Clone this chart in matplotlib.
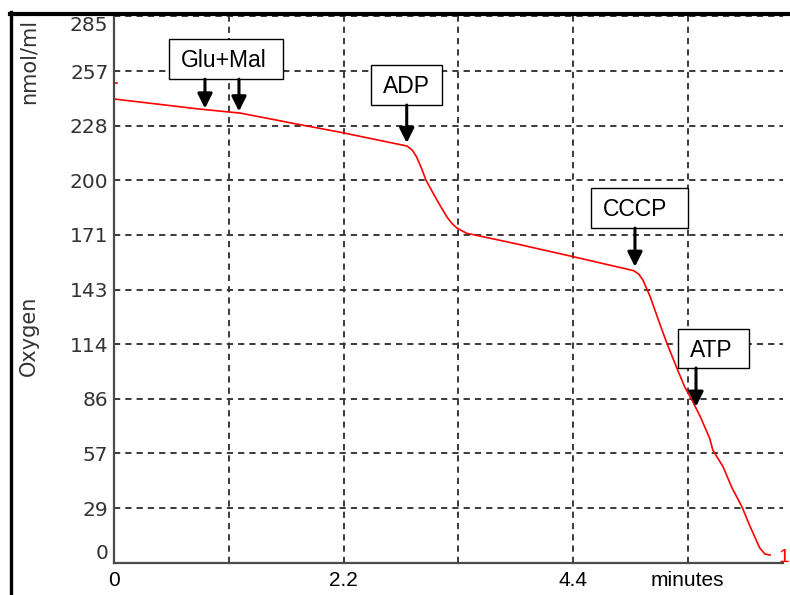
import matplotlib
matplotlib.use("Agg")
import matplotlib.pyplot as plt
from matplotlib.patches import Rectangle
from matplotlib.lines import Line2D

# Oxygen trace (minutes, nmol/ml)
t_min = [0.01, 0.82, 1.21, 1.59, 1.75, 2.17, 2.81, 2.86, 2.90, 2.95, 2.99,
         3.06, 3.13, 3.19, 3.24, 3.29, 3.38, 3.83, 4.40, 4.98, 5.03, 5.07,
         5.14, 5.23, 5.30, 5.39, 5.47, 5.54, 5.62, 5.71, 5.74, 5.84, 5.92,
         6.02, 6.10, 6.19, 6.24, 6.29]
oxygen = [241.9, 236.7, 234.6, 230.6, 228.9, 224.6, 217.4, 215.2, 211.8,
          205.5, 199.7, 192.7, 186.0, 180.5, 177.0, 174.5, 171.9, 166.7,
          159.7, 152.4, 150.6, 147.5, 138.8, 124.9, 114.5, 102.3, 91.8, 84.9,
          76.2, 64.9, 58.8, 49.9, 39.5, 29.1, 18.6, 7.7, 4.5, 4.0]
# tiny stray bit of trace at the very start
blip_t = [0.0, 0.03]
blip_o = [250.3, 250.3]

y_ticks = [0, 28.5, 57, 85.5, 114, 142.5, 171, 199.5, 228, 256.5, 285]
y_ticklabels = ["0", "29", "57", "86", "114", "143", "171", "200", "228", "257", "285"]
x_ticks = [0, 1.1, 2.2, 3.3, 4.4, 5.5]
x_ticklabels = ["0", "", "2.2", "", "4.4", "minutes"]

# additions: label, arrow x positions, arrow tip y, box (x0, y0, w, h)
add_labels = ["Glu+Mal", "ADP", "CCCP", "ATP"]
add_x = [[0.872, 1.198], [2.806], [4.994], [5.579]]
add_tip = [[237.0, 235.5], [219.0], [154.4], [81.4]]
add_box = [(0.527, 252.3, 1.093, 20.8), (2.464, 238.8, 0.681, 20.9),
           (4.572, 174.6, 0.930, 20.9), (5.406, 101.6, 0.681, 20.4)]

grid_col = "#3a3a3a"
text_col = "#333333"

fig = plt.figure(figsize=(7.9, 5.95), dpi=100)
ax = fig.add_axes([114 / 790, 32.3 / 595, 669 / 790, 546.2 / 595])

ax.plot(t_min, oxygen, color="red", lw=1.2)
ax.plot(blip_t, blip_o, color="red", lw=1.2)

ax.set_xlim(0, 6.413)
ax.set_ylim(0, 285)

ax.set_yticks(y_ticks)
ax.set_yticklabels(y_ticklabels, fontsize=14.5, color=text_col, family="DejaVu Sans")
ax.set_xticks(x_ticks)
ax.set_xticklabels(x_ticklabels, fontsize=15, color="black", family="Liberation Sans")
ax.tick_params(axis="y", length=0, pad=4)
ax.tick_params(axis="x", length=0, pad=6)
ylabs = ax.get_yticklabels()
ylabs[0].set_va("bottom")
ylabs[-1].set_va("top")

ax.grid(True, color=grid_col, lw=1.4, linestyle=(0, (3.2, 2.6)))
ax.set_axisbelow(True)

for side in ["top", "right"]:
    ax.spines[side].set_visible(False)
for side in ["left", "bottom"]:
    ax.spines[side].set_color("#4a4a4a")
    ax.spines[side].set_linewidth(1.6)

# annotation boxes with arrows
for lab, xs, tips, box in zip(add_labels, add_x, add_tip, add_box):
    x0, y0, w, h = box
    ax.add_patch(Rectangle((x0, y0), w, h, facecolor="white", edgecolor="black",
                           lw=1.0, zorder=4))
    ax.text(x0 + 0.115, y0 + h / 2 - 4.3, lab, fontsize=16.5, va="baseline",
            ha="left", family="Liberation Sans", zorder=5)
    for xa, ya in zip(xs, tips):
        ax.annotate("", xy=(xa, ya), xytext=(xa, y0), zorder=5,
                    arrowprops=dict(arrowstyle="-|>", lw=2.2, color="black",
                                    mutation_scale=22, shrinkA=0, shrinkB=0))

# trace number at the right end
fig.text(0.999, 1 - 557 / 595, "1", color="red", fontsize=14, ha="right",
         va="center", family="Liberation Sans")

# axis captions
fig.text(29 / 790, 1 - 61 / 595, "nmol/ml", rotation=90, ha="center", va="center",
         fontsize=15, color=text_col)
fig.text(29 / 790, 1 - 336 / 595, "Oxygen", rotation=90, ha="center", va="center",
         fontsize=15, color=text_col)

# outer frame of the recorder window
fig.add_artist(Line2D([10.5 / 790, 10.5 / 790], [0, 1 - 12 / 595],
                      color="black", lw=2.4, transform=fig.transFigure))
fig.add_artist(Line2D([9.5 / 790, 1], [1 - 14 / 595, 1 - 14 / 595],
                      color="black", lw=3.0, transform=fig.transFigure))

fig.savefig("out.png", dpi=100)
